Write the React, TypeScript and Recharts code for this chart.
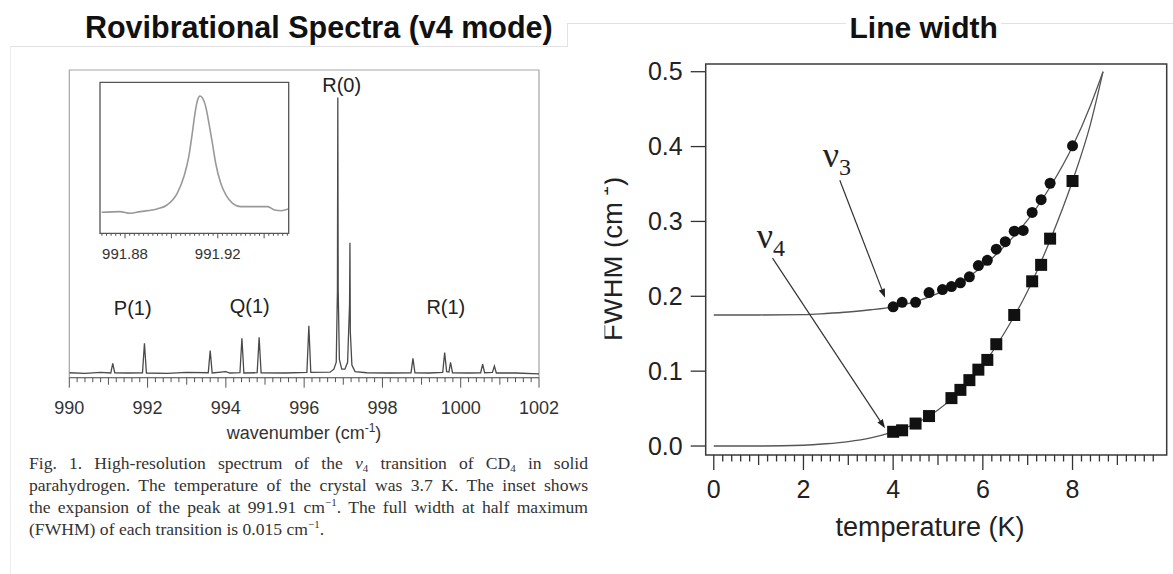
import React from "react";
import {
  ComposedChart,
  Line,
  Scatter,
  XAxis,
  YAxis,
  ReferenceArea,
  ReferenceLine,
} from "recharts";

const SANS = '"Liberation Sans", Arial, sans-serif';
const SERIF = '"Liberation Serif", "Times New Roman", serif';

// ---- left panel: rovibrational spectrum (R(0) peak = 100) ----
const specWn = [
  990.0, 990.4, 990.8, 991.06, 991.11, 991.16, 991.5, 991.87, 991.92, 991.97, 992.5, 993.0,
  993.55, 993.6, 993.65, 994.0, 994.1, 994.36, 994.41, 994.46, 994.8, 994.85, 994.9, 995.5,
  996.07, 996.12, 996.17, 996.66, 996.76, 996.82, 996.85, 996.86, 996.87, 996.9, 996.96,
  997.04, 997.11, 997.16, 997.17, 997.18, 997.22, 997.3, 997.6, 998.2, 998.73, 998.78,
  998.83, 999.2, 999.54, 999.59, 999.64, 999.7, 999.74, 999.79, 1000.2, 1000.51, 1000.56,
  1000.61, 1000.81, 1000.86, 1000.91, 1001.4, 1002.0,
];
const specInt = [
  0.2, 0.0, 0.3, 0.1, 3.6, 0.2, 0.1, 0.2, 10.9, 0.1, 0.0, 0.3,
  0.2, 8.2, 0.1, 0.6, 0.1, 0.2, 12.7, 0.1, 0.2, 13.1, 0.2, 0.1,
  0.3, 17.2, 0.3, 0.4, 1.5, 4, 30, 100, 30, 5, 1.5,
  1.5, 4, 25, 47.3, 15, 3, 0.6, 0.2, 0.1, 0.2, 5.4,
  0.2, 0.1, 0.3, 7.5, 0.6, 0.5, 4.0, 0.2, 0.1, 0.2, 3.3,
  0.2, 0.3, 2.6, 0.1, 0.1, -0.2,
];

// inset: expansion of the peak at 991.91 cm-1 (normalised)
const insetWn = [
  991.8699, 991.8778, 991.8822, 991.8865, 991.8938, 991.8981, 991.9025, 991.9054, 991.9075,
  991.909, 991.9104, 991.9114, 991.9123, 991.9133, 991.9148, 991.9162, 991.9177, 991.9191,
  991.9213, 991.9235, 991.9264, 991.93, 991.9358, 991.9416, 991.9445, 991.9474, 991.9503,
];
const insetInt = [
  -0.003, 0.003, -0.011, 0.003, 0.026, 0.06, 0.161, 0.305, 0.477,
  0.678, 0.879, 0.971, 1.0, 0.986, 0.908, 0.764, 0.592, 0.42,
  0.247, 0.147, 0.075, 0.046, 0.046, 0.046, 0.017, 0.011, 0.026,
];

const peakNames = ["P(1)", "Q(1)", "R(0)", "R(1)"];
const peakNameWn = [991.62, 994.61, 996.96, 999.62];
const peakNameInt = [23.6, 24.5, 104.6, 23.9];

const wnLabels = [990, 992, 994, 996, 998, 1000, 1002];
const insetLabels = [991.88, 991.92];

// ---- right panel: line width vs temperature ----
const v3Temp = [4.0, 4.2, 4.5, 4.8, 5.1, 5.3, 5.5, 5.7, 5.9, 6.1, 6.3, 6.5, 6.7, 6.9, 7.1, 7.3, 7.5, 8.0];
const v3Fwhm = [0.186, 0.192, 0.192, 0.205, 0.209, 0.213, 0.218, 0.226, 0.241, 0.248, 0.263, 0.273, 0.287, 0.288, 0.312, 0.329, 0.351, 0.401];
const v4Temp = [4.0, 4.2, 4.5, 4.8, 5.3, 5.5, 5.7, 5.9, 6.1, 6.3, 6.7, 7.1, 7.3, 7.5, 8.0];
const v4Fwhm = [0.019, 0.021, 0.03, 0.04, 0.064, 0.075, 0.088, 0.102, 0.115, 0.136, 0.175, 0.22, 0.242, 0.277, 0.354];

const fitTemp = [0, 1, 2, 2.5, 3, 3.5, 4, 4.5, 5, 5.5, 6, 6.5, 7, 7.5, 8, 8.4, 8.68];
const v3FitFwhm = [0.175, 0.175, 0.1755, 0.177, 0.179, 0.182, 0.186, 0.193, 0.204, 0.219, 0.24, 0.268, 0.302, 0.346, 0.4, 0.455, 0.5];
const v4FitFwhm = [0, 0, 0.001, 0.003, 0.006, 0.011, 0.019, 0.03, 0.048, 0.074, 0.108, 0.153, 0.207, 0.275, 0.354, 0.43, 0.5];

const tempLabels = [0, 2, 4, 6, 8];
const fwhmLabels = [0, 0.1, 0.2, 0.3, 0.4, 0.5];

const spectrum = specWn.map((x, i) => ({ x, y: specInt[i] }));
const inset = insetWn.map((x, i) => ({ x, y: insetInt[i] }));
const peakText = peakNames.map((label, i) => ({ x: peakNameWn[i], y: peakNameInt[i], label }));
const v3Pts = v3Temp.map((t, i) => ({ t, f: v3Fwhm[i] }));
const v4Pts = v4Temp.map((t, i) => ({ t, f: v4Fwhm[i] }));
const v3Fit = fitTemp.map((t, i) => ({ t, f: v3FitFwhm[i] }));
const v4Fit = fitTemp.map((t, i) => ({ t, f: v4FitFwhm[i] }));
const nuText = [
  { t: 2.43, f: 0.373, sub: "3" },
  { t: 0.96, f: 0.264, sub: "4" },
];

const wnTicks = Array.from({ length: 61 }, (_, i) => +(990 + i * 0.2).toFixed(1));
const insetTicks = Array.from({ length: 41 }, (_, i) => +(991.87 + i * 0.002).toFixed(3));
const tempTicks = Array.from({ length: 50 }, (_, i) => +(i * 0.2).toFixed(1));

const WnTick = ({ x, y, payload }: any) => {
  const k = Math.round(payload.value * 5);
  const len = k % 10 === 0 ? 10 : k % 5 === 0 ? 7 : 4.5;
  const show = wnLabels.includes(Math.round(payload.value * 10) / 10);
  return (
    <g>
      <line x1={x} x2={x} y1={y} y2={y + len} stroke="#555" strokeWidth={1} />
      {show && (
        <text x={x} y={y + 36} textAnchor="middle" fontSize={18} fontFamily={SANS} fill="#333">
          {Math.round(payload.value)}
        </text>
      )}
    </g>
  );
};

const InsetTick = ({ x, y, payload }: any) => {
  const k = Math.round(payload.value * 500);
  const len = k % 10 === 0 ? 5 : 2.5;
  const lab = insetLabels.find((v) => Math.abs(v - payload.value) < 1e-6);
  return (
    <g>
      <line x1={x} x2={x} y1={y} y2={y + len} stroke="#555" strokeWidth={1} />
      {lab !== undefined && (
        <text x={x} y={y + 26} textAnchor="middle" fontSize={15} fontFamily={SANS} fill="#333">
          {lab.toFixed(2)}
        </text>
      )}
    </g>
  );
};

const TempTick = ({ x, y, payload }: any) => {
  const k = Math.round(payload.value * 5);
  const len = k % 10 === 0 ? 15 : k % 5 === 0 ? 10 : 6.5;
  const show = tempLabels.includes(Math.round(payload.value * 10) / 10);
  return (
    <g>
      <line x1={x} x2={x} y1={y} y2={y + len} stroke="#333" strokeWidth={1.3} />
      {show && (
        <text x={x} y={y + 43} textAnchor="middle" fontSize={25} fontFamily={SANS} fill="#222">
          {Math.round(payload.value)}
        </text>
      )}
    </g>
  );
};

const FwhmTick = ({ x, y, payload }: any) => (
  <g>
    <line x1={x - 15} x2={x} y1={y} y2={y} stroke="#333" strokeWidth={1.3} />
    <text x={x - 23} y={y + 8.5} textAnchor="end" fontSize={25} fontFamily={SANS} fill="#222">
      {payload.value.toFixed(1)}
    </text>
  </g>
);

const Arrow = ({ x1, y1, x2, y2 }: any) => {
  const a = Math.atan2(y2 - y1, x2 - x1);
  const L = 9;
  const W = 3.2;
  const bx = x2 - L * Math.cos(a);
  const by = y2 - L * Math.sin(a);
  const nx = -Math.sin(a) * W;
  const ny = Math.cos(a) * W;
  return (
    <g>
      <line x1={x1} y1={y1} x2={bx} y2={by} stroke="#333" strokeWidth={1.2} />
      <polygon points={`${x2},${y2} ${bx + nx},${by + ny} ${bx - nx},${by - ny}`} fill="#222" />
    </g>
  );
};

const PeakName = (p: any) => (
  <text x={p.cx} y={p.cy} dy="0.35em" textAnchor="middle" fontSize={20} fontFamily={SANS} fill="#222">
    {p.payload.label}
  </text>
);

const NuName = (p: any) => (
  <text x={p.cx} y={p.cy} fontFamily={SERIF} fill="#222">
    <tspan fontSize={36}>ν</tspan>
    <tspan fontSize={24} dy={8}>
      {p.payload.sub}
    </tspan>
  </text>
);

const Sub = ({ children }: any) => (
  <span style={{ fontSize: 11, verticalAlign: -3, lineHeight: 0 }}>{children}</span>
);
const Sup = ({ children }: any) => (
  <span style={{ fontSize: 11, verticalAlign: 7, lineHeight: 0 }}>{children}</span>
);

const capLine = (last: boolean): React.CSSProperties => ({
  height: 22,
  lineHeight: "22px",
  textAlign: last ? "left" : "justify",
  textAlignLast: last ? "left" : "justify",
  whiteSpace: "nowrap",
});

export default function App() {
  return (
    <div
      style={{
        position: "absolute",
        left: 0,
        top: 0,
        width: 1173,
        height: 574,
        background: "#fff",
        overflow: "hidden",
        fontFamily: SANS,
      }}
    >
      {/* faint frame lines of the two source images */}
      <div style={{ position: "absolute", left: 10, top: 46, width: 557, height: 1, background: "#e2e2e2" }} />
      <div style={{ position: "absolute", left: 10, top: 46, width: 1, height: 528, background: "#ececec" }} />
      <div style={{ position: "absolute", left: 567, top: 23, width: 1, height: 24, background: "#e2e2e2" }} />
      <div style={{ position: "absolute", left: 567, top: 23, width: 279, height: 1, background: "#e2e2e2" }} />
      <div style={{ position: "absolute", left: 1001, top: 23, width: 172, height: 1, background: "#e2e2e2" }} />

      {/* spectrum */}
      <div style={{ position: "absolute", left: 0, top: 0 }}>
        <ComposedChart width={600} height={460} margin={{ top: 70, right: 61, bottom: 42.3, left: 69.3 }}>
          <XAxis
            type="number"
            dataKey="x"
            domain={[990, 1002]}
            ticks={wnTicks}
            interval={0}
            tick={<WnTick />}
            tickLine={false}
            tickSize={0}
            tickMargin={0}
            height={40}
            axisLine={{ stroke: "#666", strokeWidth: 1 }}
            allowDataOverflow
          />
          <YAxis type="number" dataKey="y" domain={[-1.6, 110]} hide allowDataOverflow />
          <ReferenceArea
            x1={990}
            x2={1002}
            y1={-1.6}
            y2={110}
            fill="none"
            stroke="#a5a5a5"
            strokeWidth={1.2}
            ifOverflow="visible"
          />
          <Line
            data={spectrum}
            dataKey="y"
            type="linear"
            stroke="#4a4a4a"
            strokeWidth={1.3}
            dot={false}
            isAnimationActive={false}
          />
          <Scatter data={peakText} dataKey="y" shape={PeakName} isAnimationActive={false} />
        </ComposedChart>
      </div>

      {/* inset */}
      <div style={{ position: "absolute", left: 40, top: 50 }}>
        <ComposedChart width={270} height={230} margin={{ top: 32.3, right: 21.3, bottom: 16.7, left: 60 }}>
          <XAxis
            type="number"
            dataKey="x"
            domain={[991.8692, 991.9506]}
            ticks={insetTicks}
            interval={0}
            tick={<InsetTick />}
            tickLine={false}
            tickSize={0}
            tickMargin={0}
            height={30}
            axisLine={false}
            allowDataOverflow
          />
          <YAxis type="number" dataKey="y" domain={[-0.184, 1.118]} hide allowDataOverflow />
          <ReferenceArea
            x1={991.8692}
            x2={991.9506}
            y1={-0.184}
            y2={1.118}
            fill="none"
            stroke="#555"
            strokeWidth={1.3}
            ifOverflow="visible"
          />
          <Line
            data={inset}
            dataKey="y"
            type="monotone"
            stroke="#999"
            strokeWidth={1.6}
            dot={false}
            isAnimationActive={false}
          />
        </ComposedChart>
      </div>

      {/* line width */}
      <div style={{ position: "absolute", left: 603, top: 0, width: 570, height: 574, overflow: "hidden" }}>
        <div style={{ position: "absolute", left: -3, top: 0 }}>
          <ComposedChart width={573} height={574} margin={{ top: 64, right: 6.3, bottom: 59, left: 45.7 }}>
            <XAxis
              type="number"
              dataKey="t"
              domain={[-0.18, 10.1]}
              ticks={tempTicks}
              interval={0}
              tick={<TempTick />}
              tickLine={false}
              tickSize={0}
              tickMargin={0}
              height={60}
              axisLine={false}
              allowDataOverflow
            />
            <YAxis
              type="number"
              dataKey="f"
              domain={[-0.012, 0.5103]}
              ticks={fwhmLabels}
              interval={0}
              tick={<FwhmTick />}
              tickLine={false}
              tickSize={0}
              tickMargin={0}
              width={60}
              axisLine={false}
              allowDataOverflow
            />
            <ReferenceArea
              x1={-0.18}
              x2={10.1}
              y1={-0.012}
              y2={0.5103}
              fill="none"
              stroke="#3a3a3a"
              strokeWidth={1.5}
              ifOverflow="visible"
            />
            <Line data={v3Fit} dataKey="f" type="monotone" stroke="#555" strokeWidth={1.3} dot={false} isAnimationActive={false} />
            <Line data={v4Fit} dataKey="f" type="monotone" stroke="#555" strokeWidth={1.3} dot={false} isAnimationActive={false} />
            <ReferenceLine
              segment={[{ x: 2.81, y: 0.355 }, { x: 3.82, y: 0.198 }]}
              shape={Arrow}
              ifOverflow="visible"
            />
            <ReferenceLine
              segment={[{ x: 1.31, y: 0.251 }, { x: 3.82, y: 0.0236 }]}
              shape={Arrow}
              ifOverflow="visible"
            />
            <Scatter
              data={v3Pts}
              dataKey="f"
              shape={(p: any) => <circle cx={p.cx} cy={p.cy} r={5.5} fill="#111" />}
              isAnimationActive={false}
            />
            <Scatter
              data={v4Pts}
              dataKey="f"
              shape={(p: any) => <rect x={p.cx - 6} y={p.cy - 6} width={12} height={12} fill="#111" />}
              isAnimationActive={false}
            />
            <Scatter data={nuText} dataKey="f" shape={NuName} isAnimationActive={false} />
          </ComposedChart>
        </div>
      </div>

      {/* titles and axis titles */}
      <svg
        width={1173}
        height={574}
        style={{ position: "absolute", left: 0, top: 0, pointerEvents: "none" }}
      >
        <defs>
          <clipPath id="ylabClip">
            <rect x={604.5} y={0} width={100} height={574} />
          </clipPath>
        </defs>
        <text x={318.8} y={37.5} textAnchor="middle" fontSize={30.5} fontWeight="bold" fontFamily={SANS} fill="#111">
          Rovibrational Spectra (v4 mode)
        </text>
        <text x={923.7} y={37.5} textAnchor="middle" fontSize={30} fontWeight="bold" fontFamily={SANS} fill="#111">
          Line width
        </text>
        <text x={304} y={439} textAnchor="middle" fontSize={18} fontFamily={SANS} fill="#333">
          wavenumber (cm
          <tspan fontSize={12} dy={-7}>
            -1
          </tspan>
          <tspan dy={7}>)</tspan>
        </text>
        <text x={930} y={536} textAnchor="middle" fontSize={27} fontFamily={SANS} fill="#222">
          temperature (K)
        </text>
        <g clipPath="url(#ylabClip)">
          <text
            x={621.5}
            y={259}
            transform="rotate(-90 621.5 259)"
            textAnchor="middle"
            fontSize={27.5}
            fontFamily={SANS}
            fill="#222"
          >
            FWHM (cm
            <tspan fontSize={18} dy={-14}>
              -1
            </tspan>
            <tspan dy={14}>)</tspan>
          </text>
        </g>
      </svg>

      {/* caption */}
      <div
        style={{
          position: "absolute",
          left: 29,
          top: 452,
          width: 559,
          fontFamily: SERIF,
          fontSize: 17.6,
          color: "#333",
        }}
      >
        <div style={capLine(false)}>
          Fig. 1. High-resolution spectrum of the <i>ν</i>
          <Sub>4</Sub> transition of CD<Sub>4</Sub> in solid
        </div>
        <div style={capLine(false)}>
          parahydrogen. The temperature of the crystal was 3.7 K. The inset shows
        </div>
        <div style={capLine(false)}>
          the expansion of the peak at 991.91 cm<Sup>−1</Sup>. The full width at half maximum
        </div>
        <div style={capLine(true)}>
          (FWHM) of each transition is 0.015 cm<Sup>−1</Sup>.
        </div>
      </div>
    </div>
  );
}
